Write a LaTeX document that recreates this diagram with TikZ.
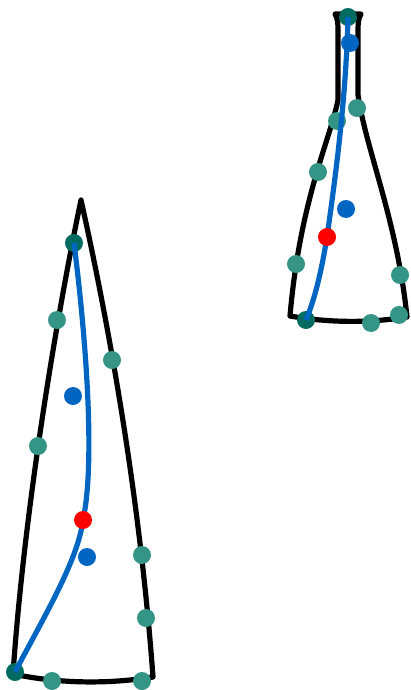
\documentclass[tikz,border=0pt]{standalone}
\definecolor{tealdot}{HTML}{349486}
\definecolor{darkteal}{HTML}{006B60}
\definecolor{curveblue}{HTML}{0066C2}
\definecolor{reddot}{HTML}{FF0000}
\tikzset{
  outline/.style={line width=5.2pt, black, line join=round, line cap=round},
  midline/.style={line width=5.2pt, curveblue, line cap=butt},
  dot/.style={circle, inner sep=0pt, minimum size=18pt, draw=none},
  tdot/.style={dot, fill=tealdot},
  edot/.style={dot, fill=darkteal},
  bdot/.style={dot, fill=curveblue},
  rdot/.style={dot, fill=reddot}
}
\begin{document}
\begin{tikzpicture}[x=1pt,y=-1pt]
\useasboundingbox (0,0) rectangle (410,690);
% ---------- left shape ----------
\coordinate (LA) at (81,200);
\coordinate (LBL) at (13,674);
\coordinate (LBR) at (153,677);
\draw[outline] (LA) .. controls (60,300) and (25,500) .. (LBL)
  .. controls (60,684) and (110,684) .. (LBR)
  .. controls (140,500) and (110,330) .. cycle;
% ---------- right shape ----------
\coordinate (RTL) at (335,14);
\coordinate (RTR) at (361,14);
\coordinate (RBL) at (290,316);
\coordinate (RBR) at (407,317);
\draw[outline] (RTL) -- (RTR) .. controls (358,20) .. (358,40) -- (358,95)
  .. controls (366,150) and (397,220) .. (RBR)
  .. controls (370,323) and (330,323) .. (RBL)
  .. controls (300,200) and (330,140) .. (338,100) -- (338,40)
  .. controls (338,20) .. cycle;
% ---------- teal dots ----------
\node[tdot] (l1) at (57,320) {};
\node[tdot] (l2) at (38,446) {};
\node[tdot] (l3) at (112,360) {};
\node[tdot] (l4) at (142,555) {};
\node[tdot] (l5) at (146,618) {};
\node[tdot] (l6) at (52,681) {};
\node[tdot] (l7) at (142,681) {};
\node[edot] (ls) at (74,243) {};
\node[edot] (le) at (15,672) {};
\node[tdot] (r1) at (357,108) {};
\node[tdot] (r2) at (337,121) {};
\node[tdot] (r3) at (318,172) {};
\node[tdot] (r4) at (296,264) {};
\node[tdot] (r5) at (400,275) {};
\node[tdot] (r6) at (399,315) {};
\node[tdot] (r7) at (371,323) {};
\node[edot] (rs) at (348,17) {};
\node[edot] (re) at (306,320) {};
% ---------- blue curves ----------
\coordinate (lmid) at (83,520);
\coordinate (rmid) at (327,237);
\draw[midline] (ls.center) .. controls (85,330) and (96,460) .. (lmid)
  .. controls (78,560) and (45,615) .. (le.center);
\draw[midline] (rs.center) .. controls (346,100) and (335,180) .. (rmid)
  .. controls (320,280) and (313,303) .. (re.center);
% ---------- blue and red dots ----------
\node[bdot] (lb1) at (73,396) {};
\node[bdot] (lb2) at (87,557) {};
\node[rdot] (lr) at (lmid) {};
\node[bdot] (rb1) at (350,43) {};
\node[bdot] (rb2) at (346,209) {};
\node[rdot] (rr) at (rmid) {};
\end{tikzpicture}
\end{document}
